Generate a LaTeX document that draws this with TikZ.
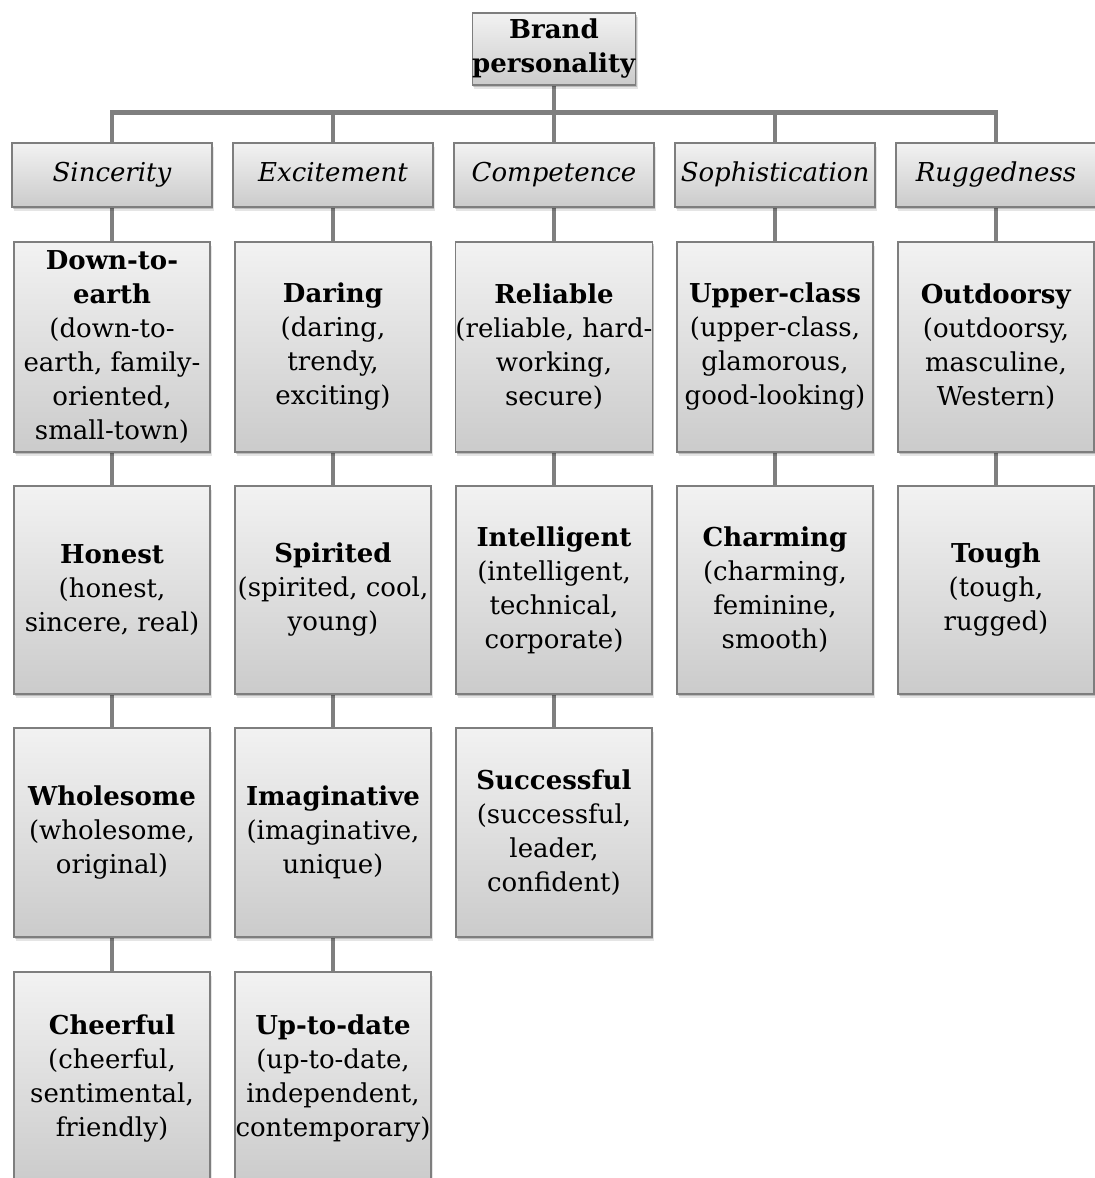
\documentclass[tikz,border=0pt]{standalone}
\usepackage{fontspec}
\setmainfont{DejaVu Serif}
\usetikzlibrary{shadows,backgrounds}
\definecolor{boxtop}{HTML}{F2F2F2}
\definecolor{boxbot}{HTML}{CBCBCB}
\definecolor{boxline}{HTML}{7E7E7E}
\definecolor{linkgray}{HTML}{7F7F7F}
\tikzset{
  card/.style={draw=boxline, line width=0.6pt, top color=boxtop, bottom color=boxbot,
    general shadow={fill=black, opacity=0.10, shadow xshift=0.9pt, shadow yshift=-2.2pt},
    general shadow={fill=black, opacity=0.18, shadow xshift=0.6pt, shadow yshift=-1.2pt},
    align=center, inner sep=0pt, font=\fontsize{13}{17}\selectfont},
  rootbox/.style={card, minimum width=81pt, minimum height=36pt},
  catbox/.style={card, minimum width=100pt, minimum height=32pt, text height=9.5pt, text depth=3pt,
    font=\fontsize{13}{17}\selectfont\itshape},
  traitbox/.style={card, minimum width=98pt},
  rowA/.style={traitbox, minimum height=105pt},
  rowB/.style={traitbox, minimum height=104pt},
  rowC/.style={traitbox, minimum height=104.5pt},
  rowD/.style={traitbox, minimum height=106pt},
  link/.style={draw=linkgray, line width=2.4pt, line join=miter}
}
\begin{document}
\begin{tikzpicture}[x=0.5pt, y=-0.5pt]
\useasboundingbox (0,0) rectangle (1095,1178);
% root
\node[rootbox] (root) at (554,49) {\textbf{Brand}\\\textbf{personality}};
% dimensions
\node[catbox] (sin) at (112,175) {Sincerity};
\node[catbox] (exc) at (333,175) {Excitement};
\node[catbox] (com) at (554,175) {Competence};
\node[catbox] (sop) at (775,175) {Sophistication};
\node[catbox] (rug) at (996,175) {Ruggedness};
% Sincerity facets
\node[rowA] (sin1) at (112,347) {\textbf{Down-to-}\\\textbf{earth}\\(down-to-\\earth, family-\\oriented,\\small-town)};
\node[rowB] (sin2) at (112,590) {\textbf{Honest}\\(honest,\\sincere, real)};
\node[rowC] (sin3) at (112,832.5) {\textbf{Wholesome}\\(wholesome,\\original)};
\node[rowD] (sin4) at (112,1078) {\textbf{Cheerful}\\(cheerful,\\sentimental,\\friendly)};
% Excitement facets
\node[rowA] (exc1) at (333,347) {\textbf{Daring}\\(daring,\\trendy,\\exciting)};
\node[rowB] (exc2) at (333,590) {\textbf{Spirited}\\(spirited, cool,\\young)};
\node[rowC] (exc3) at (333,832.5) {\textbf{Imaginative}\\(imaginative,\\unique)};
\node[rowD] (exc4) at (333,1078) {\textbf{Up-to-date}\\(up-to-date,\\independent,\\contemporary)};
% Competence facets
\node[rowA] (com1) at (554,347) {\textbf{Reliable}\\(reliable, hard-\\working,\\secure)};
\node[rowB] (com2) at (554,590) {\textbf{Intelligent}\\(intelligent,\\technical,\\corporate)};
\node[rowC] (com3) at (554,832.5) {\textbf{Successful}\\(successful,\\leader,\\confident)};
% Sophistication facets
\node[rowA] (sop1) at (775,347) {\textbf{Upper-class}\\(upper-class,\\glamorous,\\good-looking)};
\node[rowB] (sop2) at (775,590) {\textbf{Charming}\\(charming,\\feminine,\\smooth)};
% Ruggedness facets
\node[rowA] (rug1) at (996,347) {\textbf{Outdoorsy}\\(outdoorsy,\\masculine,\\Western)};
\node[rowB] (rug2) at (996,590) {\textbf{Tough}\\(tough,\\rugged)};
% connectors
\begin{scope}[on background layer]
\coordinate (barL) at (112,112.5);
\coordinate (barR) at (996,112.5);
\draw[link] (root.south) -- (root.south |- barL);
\draw[link] (sin.north) -- (barL) -- (barR) -- (rug.north);
\draw[link] (exc.north |- barL) -- (exc.north);
\draw[link] (com.north |- barL) -- (com.north);
\draw[link] (sop.north |- barL) -- (sop.north);
\draw[link] (sin) -- (sin1) -- (sin2) -- (sin3) -- (sin4);
\draw[link] (exc) -- (exc1) -- (exc2) -- (exc3) -- (exc4);
\draw[link] (com) -- (com1) -- (com2) -- (com3);
\draw[link] (sop) -- (sop1) -- (sop2);
\draw[link] (rug) -- (rug1) -- (rug2);
\end{scope}
\end{tikzpicture}
\end{document}
